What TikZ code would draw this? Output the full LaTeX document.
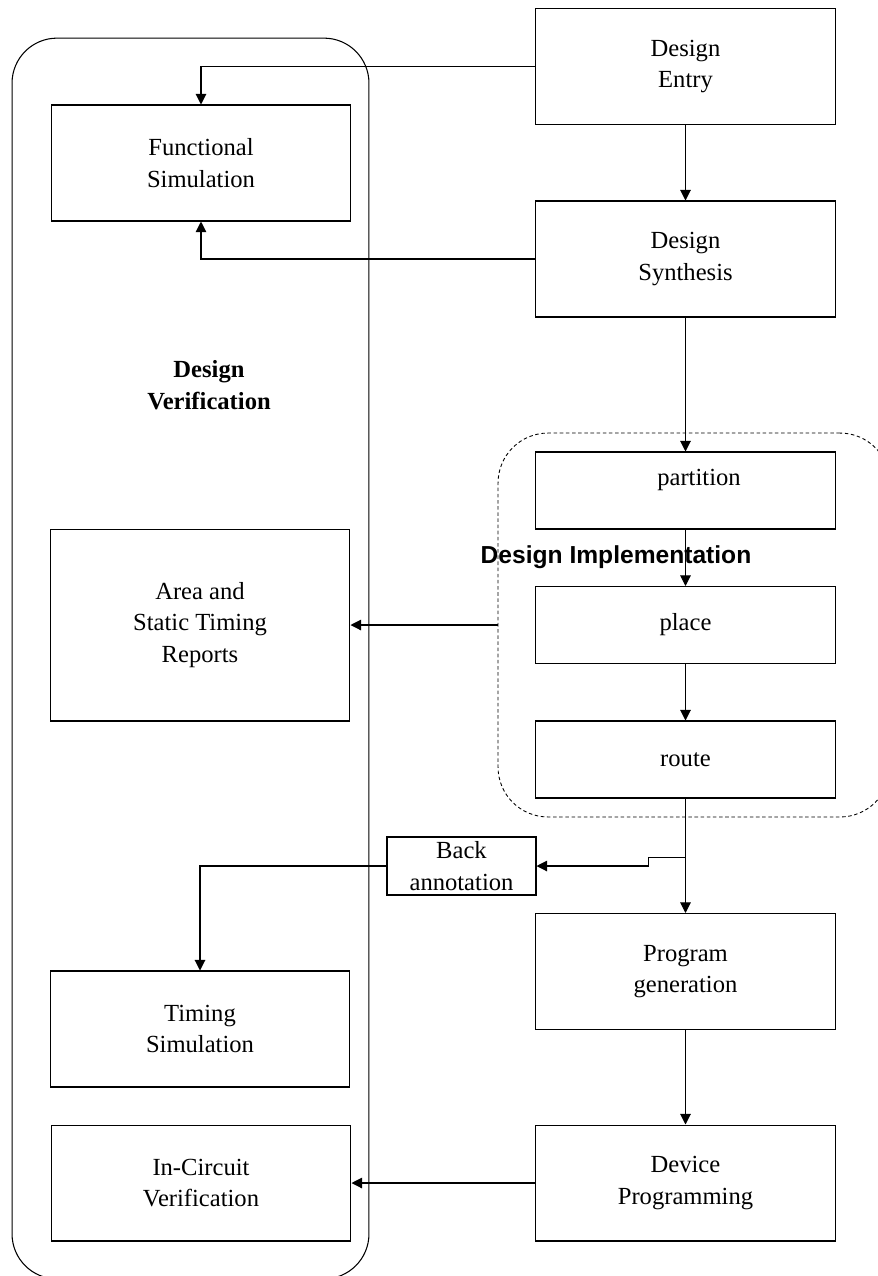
\documentclass[tikz,border=0pt]{standalone}
\usepackage{fontspec}
\setmainfont{Liberation Serif}
\newfontfamily\headsans{Liberation Sans}
\usetikzlibrary{arrows.meta}

\tikzset{
  stage/.style={draw, line width=0.6pt, minimum width=6cm, minimum height=2.32cm,
                align=center, inner sep=0pt},
  thin stage/.style={stage, minimum height=1.54cm},
  flow/.style={-{Triangle[length=6pt,width=6pt]}, line width=0.6pt},
  group/.style={draw, line width=0.6pt, rounded corners=0.9cm, inner sep=0pt},
}

\begin{document}
\begin{tikzpicture}[x=0.02cm, y=-0.02cm, font=\fontsize{14}{18}\selectfont]
\useasboundingbox (0,0) rectangle (878,1276);

% verification column and implementation group
\node[group, minimum width=7.14cm, minimum height=24.82cm] (verif) at (190.5,658.5) {};
\node[group, dash pattern=on 2pt off 1.5pt, line width=0.5pt, rounded corners=1cm,
      minimum width=7.84cm, minimum height=7.68cm] (impl) at (694,625) {};
\node[font=\fontsize{14}{18}\selectfont\bfseries, align=center] (verlbl) at (209,385) {Design\\Verification};
\node[font=\headsans\bfseries\fontsize{14}{18}\selectfont] (impllbl) at (616,557) {Design Implementation};

% flow on the right
\node[stage] (entry) at (685.5,66.5) {Design\\Entry};
\node[stage] (synth) at (685.5,259) {Design\\Synthesis};
\node[thin stage, label={[xshift=0.27cm,yshift=0.21cm]center:partition}] (part) at (685.5,490.5) {};
\node[thin stage] (place) at (685.5,625) {place};
\node[thin stage] (route) at (685.5,759.5) {route};
\node[stage] (prog) at (685.5,971.5) {Program\\generation};
\node[stage] (dev) at (685.5,1183) {Device\\Programming};

% checks on the left
\node[stage] (func) at (201,163) {Functional\\Simulation};
\node[stage, minimum height=3.84cm] (area) at (200,625) {Area and\\Static Timing\\Reports};
\node[stage] (timing) at (200,1029) {Timing\\Simulation};
\node[stage] (incirc) at (201,1183) {In-Circuit\\Verification};
\node[stage, minimum width=2.98cm, minimum height=1.16cm, fill=white] (back) at (461.5,866) {Back\\annotation};

\draw[flow] (entry) -- (synth);
\draw[flow] (synth) -- (part);
\draw[flow] (part) -- (place);
\draw[flow] (place) -- (route);
\draw[flow] (route) -- (prog);
\draw[flow] (prog) -- (dev);

\draw[flow] (entry.west) -| (func.north);
\draw[flow] (synth.west) -| (func.south);
\draw[flow] (impl.west) -- (area.east);
\coordinate (tap) at ([yshift=-1.18cm]route.south);
\draw[flow] (tap) -- ++(-37,0) |- (back.east);
\draw[flow] (back.west) -| (timing.north);
\draw[flow] (dev.west) -- (incirc.east);
\end{tikzpicture}
\end{document}
